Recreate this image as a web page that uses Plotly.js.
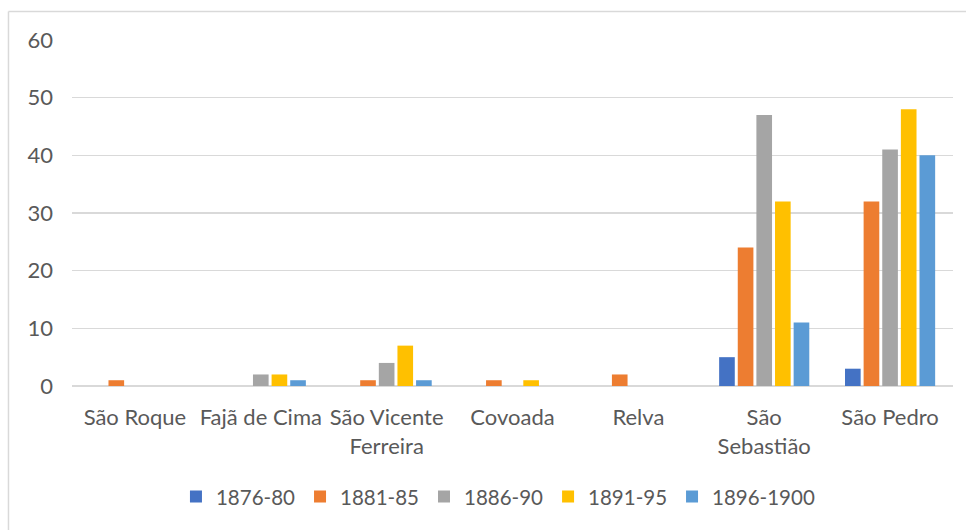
<!DOCTYPE html>
<html>
<head>
<meta charset="utf-8">
<script src="https://cdn.plot.ly/plotly-3.0.1.min.js"></script>
<style>
html,body{margin:0;padding:0;background:#fff;}
#chart{width:966px;height:530px;}
</style>
</head>
<body>
<div id="chart"></div>
<script>
const categories = ["São Roque", "Fajã de Cima", "São Vicente<br>Ferreira", "Covoada", "Relva", "São<br>Sebastião", "São Pedro"];
const seriesNames = ["1876-80", "1881-85", "1886-90", "1891-95", "1896-1900"];
const s1876 = [0, 0, 0, 0, 0, 5, 3];
const s1881 = [1, 0, 1, 1, 2, 24, 32];
const s1886 = [0, 2, 4, 0, 0, 47, 41];
const s1891 = [0, 2, 7, 1, 0, 32, 48];
const s1896 = [0, 1, 1, 0, 0, 11, 40];
const colors = ["#4472C4", "#ED7D31", "#A5A5A5", "#FFC000", "#5B9BD5"];
const yTicks = [0, 10, 20, 30, 40, 50, 60];

const values = [s1876, s1881, s1886, s1891, s1896];
const traces = values.map((v, i) => ({
  type: "bar",
  name: seriesNames[i],
  x: categories,
  y: v,
  marker: {color: colors[i], line: {width: 0}},
  hoverinfo: "x+y+name"
}));

const font = {family: "Lato, 'Open Sans', sans-serif", size: 22, color: "#595959"};
const legendFont = {family: "Lato, 'Open Sans', sans-serif", size: 20.5, color: "#595959"};

const layout = {
  width: 966, height: 530,
  margin: {l: 72, r: 13, t: 40, b: 144},
  paper_bgcolor: "#fff", plot_bgcolor: "#fff",
  font: font,
  barmode: "group",
  bargap: 0.26,
  bargroupgap: 0.16,
  showlegend: true,
  legend: {orientation: "h", x: 0.4835, xanchor: "center", y: -0.32, yanchor: "middle", font: legendFont, itemwidth: 30, traceorder: "normal"},
  xaxis: {
    type: "category",
    showgrid: false, zeroline: false, showline: false,
    ticks: "", tickfont: font, ticklabelstandoff: 16
  },
  yaxis: {
    range: [0, 60], tickvals: yTicks, ticktext: yTicks.map(String),
    showgrid: true, gridcolor: "#d9d9d9", gridwidth: 1.5,
    zeroline: true, zerolinecolor: "#d9d9d9", zerolinewidth: 1.5,
    showline: false, ticks: "", tickfont: font, ticklabelstandoff: 18
  },
  shapes: [
    {type: "line", xref: "paper", yref: "paper", x0: -0.0721, x1: 1.02, y0: 1.0824, y1: 1.0824, line: {color: "#d9d9d9", width: 1.5}},
    {type: "line", xref: "paper", yref: "paper", x0: -0.0721, x1: -0.0721, y0: 1.0824, y1: -0.45, line: {color: "#d9d9d9", width: 1.5}}
  ]
};

Plotly.newPlot("chart", traces, layout, {displayModeBar: false, staticPlot: true});
</script>
</body>
</html>
